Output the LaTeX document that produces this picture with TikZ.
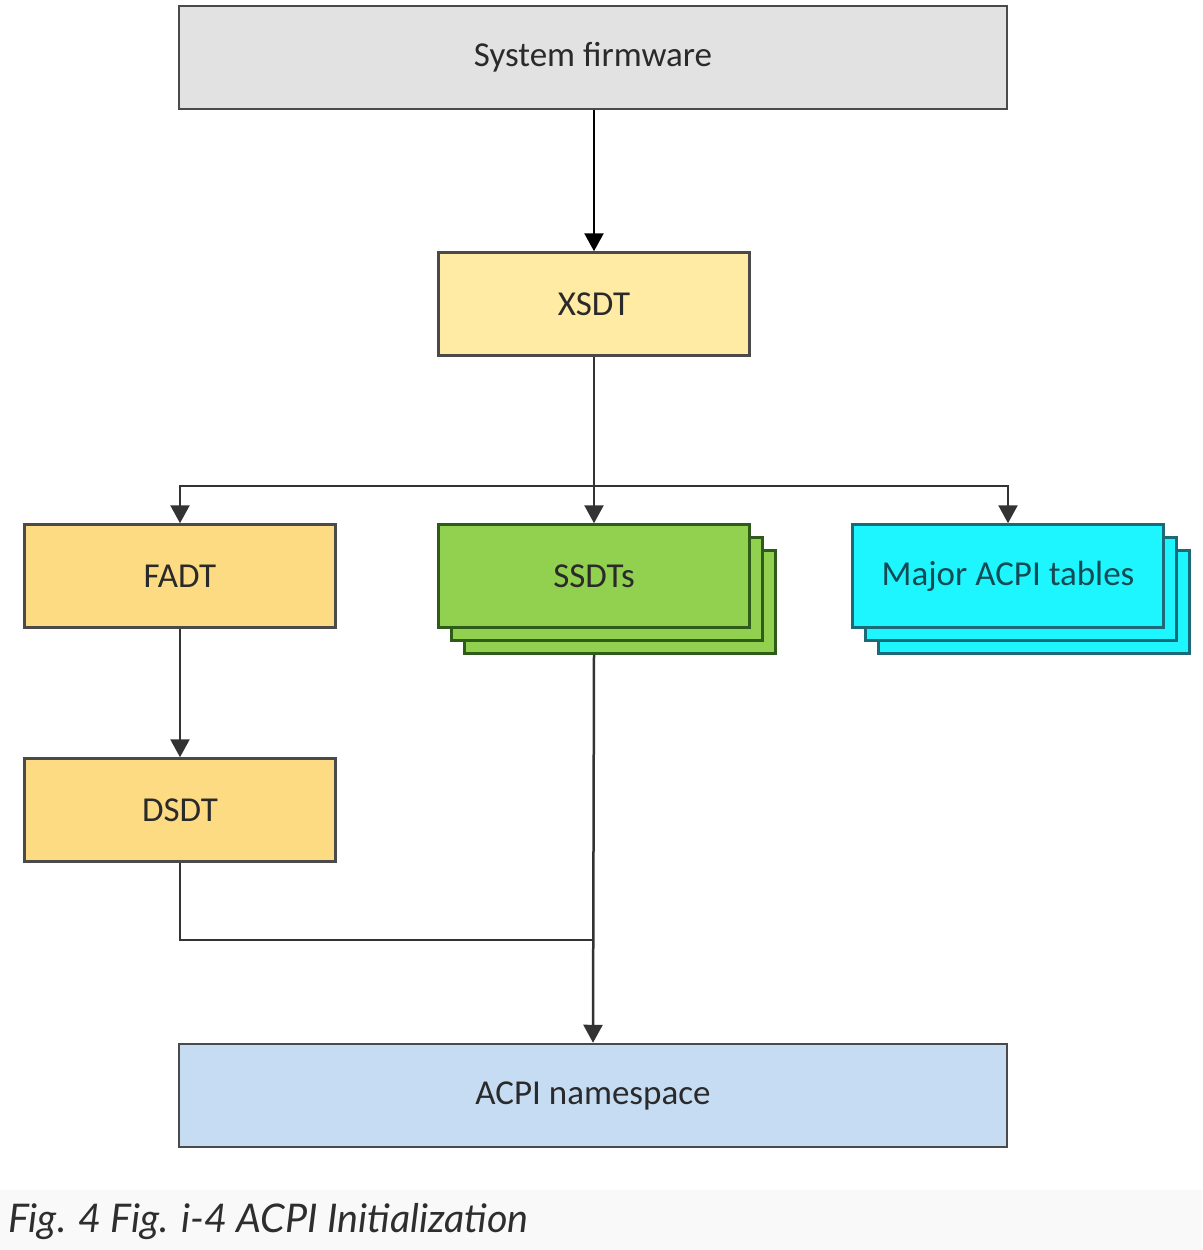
\documentclass[tikz,border=0pt]{standalone}
\usepackage{fontspec}
\setmainfont{Carlito}
\newfontfamily\capfont{Lato}
\usetikzlibrary{arrows.meta,backgrounds}
\definecolor{fwfill}{HTML}{E2E2E2}
\definecolor{xsfill}{HTML}{FFEBA3}
\definecolor{ylfill}{HTML}{FDDB82}
\definecolor{grfill}{HTML}{92D050}
\definecolor{grdraw}{HTML}{2E5A1A}
\definecolor{cyfill}{HTML}{1EF6FF}
\definecolor{cydraw}{HTML}{1C6A78}
\definecolor{nsfill}{HTML}{C6DCF3}
\definecolor{bdr}{HTML}{4A4A4A}
\definecolor{txt}{HTML}{2A2A2A}
\definecolor{capbg}{HTML}{F9F9F9}
\definecolor{capfg}{HTML}{2E2E2E}
\definecolor{lnc}{HTML}{333333}
\tikzset{
  box/.style={draw=bdr, line width=2.5pt, minimum height=103pt, inner sep=0pt,
    text=txt, font=\fontsize{35}{42}\selectfont},
  wide/.style={box, minimum width=828pt},
  narrow/.style={box, minimum width=311pt},
  stackg/.style={narrow, fill=grfill, draw=grdraw},
  stackc/.style={narrow, fill=cyfill, draw=cydraw},
  conn/.style={draw=lnc, line width=2.5pt},
  arr/.style={conn, -{Triangle[length=18pt,width=19pt]}},
}
\begin{document}
\begin{tikzpicture}[x=1pt,y=1pt]
\useasboundingbox (0,0) rectangle (1202,-1250);
\fill[capbg] (0,-1190) rectangle (1202,-1250);
% nodes
\node[wide, fill=fwfill] (fw) at (593,-57.5) {System firmware};
\node[narrow, fill=xsfill] (xsdt) at (594,-304) {XSDT};
\node[narrow, fill=ylfill] (fadt) at (180,-576) {FADT};
\node[stackg] (ssdtc) at (620,-602) {};
\node[stackg] (ssdtb) at (607,-589) {};
\node[stackg] (ssdt) at (594,-576) {SSDTs};
\node[stackc] (majc) at (1034,-602) {};
\node[stackc] (majb) at (1021,-589) {};
\node[stackc, text=cydraw!70!black] (maj) at (1008,-576) {Major ACPI tables};
\node[narrow, fill=ylfill] (dsdt) at (180,-810) {DSDT};
\node[wide, fill=nsfill] (ns) at (593,-1095.5) {ACPI namespace};
\coordinate (split) at (594,-486);
\coordinate (merge) at (594,-940);
% connectors
\draw[arr, draw=black] (fw.south -| xsdt.south) -- (xsdt.north);
\begin{scope}[on background layer]
\draw[conn] (xsdt.south) -- (split);
\draw[arr] (split) -- (ssdt.north);
\draw[arr] (split) -| (fadt.north);
\draw[arr] (split) -| (maj.north);
\draw[arr] (fadt.south) -- (dsdt.north);
\draw[conn] (dsdt.south) |- (merge);
\draw[arr] (ssdt.south |- ssdtc.south) -- (ns.north);
\end{scope}
% caption
\node[anchor=base west, inner sep=0pt, text=capfg,
  font=\capfont\itshape\fontsize{39.5}{46}\selectfont] (cap) at (8,-1232)
  {Fig. 4 Fig. i-4 ACPI Initialization};
\end{tikzpicture}
\end{document}
